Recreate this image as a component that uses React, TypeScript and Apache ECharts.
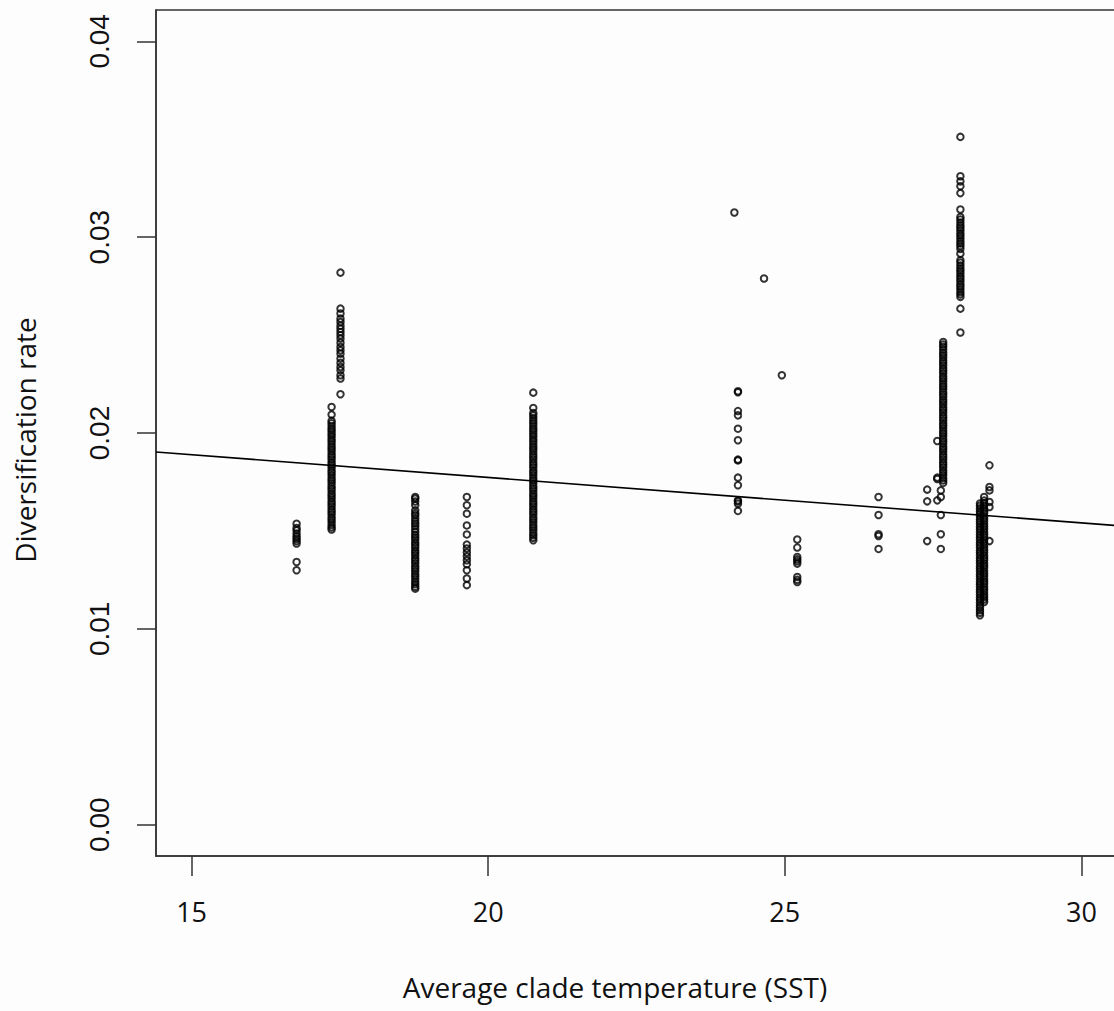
import React, { useEffect, useRef } from "react";
import * as echarts from "echarts";

// ---- data ----
const xTicks = [15, 20, 25, 30];
const yTicks = [0, 0.01, 0.02, 0.03, 0.04];

const xA = 16.77;
const yA = [0.01537, 0.01515, 0.01503, 0.01487, 0.01472, 0.0146, 0.01448, 0.01436, 0.01341, 0.01299];

const xB = 17.36;
const yB = [0.02133, 0.02094, 0.02062, 0.0205, 0.02036, 0.02022, 0.0201, 0.01996, 0.01984, 0.0197, 0.01958, 0.01944, 0.0193, 0.01918, 0.01905, 0.0189, 0.01878, 0.01865, 0.0185, 0.01838, 0.01825, 0.0181, 0.01798, 0.01785, 0.0177, 0.01758, 0.01745, 0.0173, 0.01718, 0.01705, 0.0169, 0.01678, 0.01665, 0.0165, 0.01638, 0.01625, 0.0161, 0.01598, 0.01585, 0.0157, 0.01558, 0.01545, 0.0153, 0.01518, 0.01507];

const xC = 17.51;
const yC = [0.02819, 0.02635, 0.0261, 0.02584, 0.02567, 0.02548, 0.02532, 0.02516, 0.02499, 0.02482, 0.02461, 0.02439, 0.02422, 0.02405, 0.0238, 0.02358, 0.02337, 0.0232, 0.02295, 0.02278, 0.02198];

const xD = 18.77;
const yD = [0.01673, 0.01665, 0.0165, 0.01631, 0.01605, 0.0159, 0.0158, 0.01565, 0.0155, 0.01538, 0.01525, 0.0151, 0.01495, 0.0148, 0.01468, 0.01455, 0.0144, 0.01428, 0.01415, 0.014, 0.01388, 0.01375, 0.0136, 0.01348, 0.01335, 0.0132, 0.01308, 0.01295, 0.0128, 0.01268, 0.01255, 0.0124, 0.01228, 0.01215, 0.01205];

const xE = 19.64;
const yE = [0.01673, 0.01631, 0.01588, 0.01528, 0.01482, 0.0143, 0.0141, 0.0139, 0.0137, 0.0135, 0.0133, 0.01299, 0.01257, 0.01223];

const xF = 20.76;
const yF = [0.02206, 0.02128, 0.02102, 0.0209, 0.02076, 0.02062, 0.0205, 0.02036, 0.02022, 0.0201, 0.01996, 0.01984, 0.0197, 0.01958, 0.01944, 0.0193, 0.01918, 0.01905, 0.0189, 0.01878, 0.01865, 0.0185, 0.01838, 0.01825, 0.0181, 0.01798, 0.01785, 0.0177, 0.01758, 0.01745, 0.0173, 0.01718, 0.01705, 0.0169, 0.01678, 0.01665, 0.0165, 0.01638, 0.01625, 0.0161, 0.01598, 0.01585, 0.0157, 0.01558, 0.01545, 0.0153, 0.01518, 0.01505, 0.0149, 0.01478, 0.01465, 0.01452];

const singles = [
  [24.15, 0.03126],
  [24.65, 0.02789],
  [24.95, 0.02295],
];

const xG = 24.21;
const yG = [0.02213, 0.02208, 0.02112, 0.0209, 0.02022, 0.01963, 0.01864, 0.0186, 0.01772, 0.01733, 0.01656, 0.0165, 0.01639, 0.01602];

const xH = 25.21;
const yH = [0.01456, 0.01415, 0.01367, 0.01355, 0.01345, 0.01333, 0.01265, 0.0125, 0.01239];

const xI = 26.58;
const yI = [0.01673, 0.01581, 0.01483, 0.01474, 0.01408];

const xJ = 27.4;
const yJ = [0.01711, 0.01651, 0.01448];

const xK = 27.57;
const yK = [0.01959, 0.01772, 0.01765, 0.01656];

const xL = 27.63;
const yL = [0.01707, 0.01673, 0.01581, 0.01483, 0.01408];

const xM = 27.67;
const yM = [0.02465, 0.02452, 0.0244, 0.02425, 0.0241, 0.02398, 0.02385, 0.0237, 0.02358, 0.02345, 0.0233, 0.02318, 0.02305, 0.0229, 0.02278, 0.02265, 0.0225, 0.02238, 0.02225, 0.0221, 0.02198, 0.02185, 0.0217, 0.02158, 0.02145, 0.0213, 0.02118, 0.02105, 0.0209, 0.02078, 0.02065, 0.0205, 0.02038, 0.02025, 0.0201, 0.01998, 0.01985, 0.0197, 0.01958, 0.01945, 0.0193, 0.01918, 0.01905, 0.0189, 0.01878, 0.01865, 0.0185, 0.01838, 0.01825, 0.0181, 0.01798, 0.01785, 0.0177, 0.01758, 0.01745];

const xN = 27.96;
const yN = [0.03512, 0.03311, 0.03285, 0.0326, 0.03225, 0.03141, 0.03103, 0.0309, 0.03075, 0.0306, 0.03048, 0.03035, 0.0302, 0.03008, 0.02995, 0.0298, 0.02968, 0.02955, 0.0294, 0.02916, 0.02882, 0.0287, 0.02855, 0.0284, 0.02828, 0.02815, 0.028, 0.02788, 0.02775, 0.0276, 0.02748, 0.02735, 0.0272, 0.02708, 0.02695, 0.02635, 0.02513];

const xO1 = 28.29;
const yO1 = [0.0164, 0.01628, 0.01615, 0.016, 0.01588, 0.01575, 0.0156, 0.01548, 0.01535, 0.0152, 0.01508, 0.01495, 0.0148, 0.01468, 0.01455, 0.0144, 0.01428, 0.01415, 0.014, 0.01388, 0.01375, 0.0136, 0.01348, 0.01335, 0.0132, 0.01308, 0.01295, 0.0128, 0.01268, 0.01255, 0.0124, 0.01228, 0.01215, 0.012, 0.01188, 0.01175, 0.0116, 0.01148, 0.01135, 0.0112, 0.01108, 0.01095, 0.01082, 0.01069];

const xO2 = 28.36;
const yO2 = [0.01673, 0.01655, 0.01642, 0.0163, 0.01615, 0.01602, 0.0159, 0.01575, 0.01562, 0.0155, 0.01535, 0.01522, 0.0151, 0.01495, 0.01482, 0.0147, 0.01455, 0.01442, 0.0143, 0.01415, 0.01402, 0.0139, 0.01375, 0.01362, 0.0135, 0.01335, 0.01322, 0.0131, 0.01295, 0.01282, 0.0127, 0.01255, 0.01242, 0.0123, 0.01215, 0.01202, 0.0119, 0.01175, 0.01162, 0.0115, 0.01137];

const xO3 = 28.45;
const yO3 = [0.01835, 0.01724, 0.01707, 0.01648, 0.01622, 0.01448];

// regression line endpoints (x at plot edges)
const fitLine = [
  [14.4, 0.01903],
  [30.6, 0.01527],
];

const xTitle = "Average clade temperature (SST)";
const yTitle = "Diversification rate";

const clusters: [number, number[]][] = [
  [xA, yA], [xB, yB], [xC, yC], [xD, yD], [xE, yE], [xF, yF], [xG, yG],
  [xH, yH], [xI, yI], [xJ, yJ], [xK, yK], [xL, yL], [xM, yM], [xN, yN],
  [xO1, yO1], [xO2, yO2], [xO3, yO3],
];

export default function App() {
  const ref = useRef<HTMLDivElement>(null);
  useEffect(() => {
    if (!ref.current) return;
    const chart = echarts.init(ref.current, null, { renderer: "svg" });
    const points: number[][] = [];
    clusters.forEach(([x, ys]) => ys.forEach((y) => points.push([x, y])));
    singles.forEach((p) => points.push(p));

    const axisColor = "#333";
    chart.setOption({
      animation: false,
      backgroundColor: "#fdfdfd",
      grid: {
        left: 156,
        top: 10,
        width: 961,
        height: 846,
        show: true,
        borderColor: axisColor,
        borderWidth: 1.5,
        backgroundColor: "transparent",
        containLabel: false,
        outerBoundsMode: "none",
      },
      xAxis: {
        type: "value",
        min: 14.4,
        max: 30.6,
        axisLine: { show: true, onZero: false, lineStyle: { color: axisColor, width: 1.5 } },
        axisTick: { show: true, length: 20, customValues: xTicks, lineStyle: { color: axisColor, width: 1.5 } },
        axisLabel: {
          customValues: xTicks,
          margin: 42,
          fontFamily: "Open Sans",
          fontSize: 27,
          color: "#111",
          formatter: (v: number) => String(v),
        },
        splitLine: { show: false },
      },
      yAxis: {
        type: "value",
        min: -0.0016,
        max: 0.0416,
        axisLine: { show: true, onZero: false, lineStyle: { color: axisColor, width: 1.5 } },
        axisTick: { show: true, length: 19, customValues: yTicks, lineStyle: { color: axisColor, width: 1.5 } },
        axisLabel: {
          customValues: yTicks,
          rotate: 90,
          margin: 43,
          fontFamily: "Liberation Sans",
          fontSize: 28,
          color: "#111",
          formatter: (v: number) => v.toFixed(2),
        },
        splitLine: { show: false },
      },
      series: [
        {
          type: "scatter",
          data: points,
          symbol: "circle",
          symbolSize: 6.5,
          itemStyle: { color: "rgba(0,0,0,0)", borderColor: "#000", borderWidth: 2 },
          emphasis: { disabled: true },
          silent: true,
        },
        {
          type: "line",
          data: fitLine,
          symbol: "none",
          lineStyle: { color: "#000", width: 1.6 },
          silent: true,
        },
      ],
      graphic: [
        {
          type: "text",
          x: 615,
          y: 987,
          style: {
            text: xTitle,
            fontFamily: "Open Sans",
            fontSize: 28,
            fill: "#111",
            align: "center",
            verticalAlign: "middle",
          },
        },
        {
          type: "text",
          x: 25,
          y: 440,
          rotation: Math.PI / 2,
          style: {
            text: yTitle,
            fontFamily: "Open Sans",
            fontSize: 28,
            fill: "#111",
            align: "center",
            verticalAlign: "middle",
          },
        },
      ],
    });
    return () => chart.dispose();
  }, []);

  return (
    <div
      style={{
        position: "absolute",
        left: 0,
        top: 0,
        width: 1114,
        height: 1011,
        overflow: "hidden",
        background: "#fdfdfd",
      }}
    >
      <div ref={ref} style={{ width: 1118, height: 1011 }} />
    </div>
  );
}
